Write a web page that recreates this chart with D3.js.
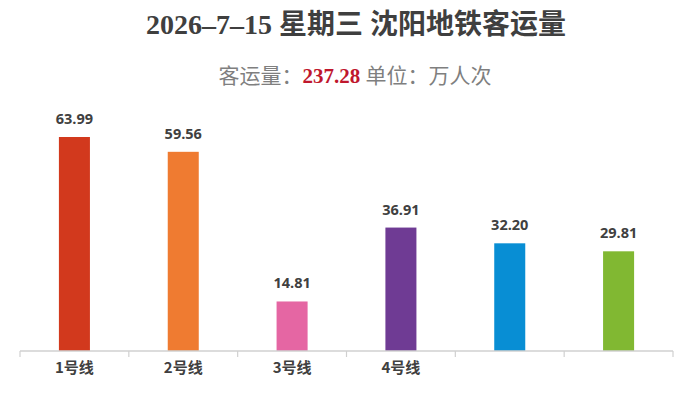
<!DOCTYPE html>
<html>
<head>
<meta charset="utf-8">
<script src="https://cdn.jsdelivr.net/npm/d3@7"></script>
<style>
  html, body { margin: 0; padding: 0; background: #fff; }
  svg { display: block; }
</style>
</head>
<body>
<svg id="chart" width="690" height="394"></svg>
<script>
// chart values
const lines = ['1号线', '2号线', '3号线', '4号线', '5', '6']
const tickLabels = ['1号线', '2号线', '3号线', '4号线', '', '']
const ridership = [63.99, 59.56, 14.81, 36.91, 32.20, 29.81]
const barColors = ['#d2391d', '#ef7b31', '#e566a3', '#6f3b94', '#088ed4', '#81b832']
const totalRidership = '237.28'

const svg = d3.select('#chart')
const width = 690
const baseline = 351

const x = d3.scaleBand()
  .domain(lines)
  .range([20, 673])
  .paddingInner(0.715)
  .paddingOuter(0.3575)

const y = d3.scaleLinear()
  .domain([0, d3.max(ridership)])
  .range([baseline, 137])

// title
svg.append('text')
  .attr('x', 356)
  .attr('y', 34)
  .attr('text-anchor', 'middle')
  .style('font-family', '"Liberation Serif", "Noto Sans CJK SC", serif')
  .style('font-weight', 'bold')
  .style('font-size', '28px')
  .style('fill', '#3f3f3f')
  .text('2026–7–15 星期三 沈阳地铁客运量')

// subtitle
const sub = svg.append('text')
  .attr('x', 355)
  .attr('y', 83)
  .attr('text-anchor', 'middle')
  .style('font-family', '"Liberation Serif", "Noto Sans CJK SC", serif')
  .style('font-size', '21px')
  .style('fill', '#7f7f7f')
sub.append('tspan').text('客运量：')
sub.append('tspan')
  .style('fill', '#c0172d')
  .style('font-weight', 'bold')
  .text(totalRidership)
sub.append('tspan').text(' 单位：万人次')

// bars
svg.selectAll('rect.bar')
  .data(ridership)
  .enter()
  .append('rect')
  .attr('class', 'bar')
  .attr('x', (d, i) => x(lines[i]))
  .attr('y', d => y(d))
  .attr('width', x.bandwidth())
  .attr('height', d => baseline - y(d))
  .attr('fill', (d, i) => barColors[i])

// value labels
svg.selectAll('text.value')
  .data(ridership)
  .enter()
  .append('text')
  .attr('class', 'value')
  .attr('x', (d, i) => x(lines[i]) + x.bandwidth() / 2)
  .attr('y', d => y(d) - 13)
  .attr('text-anchor', 'middle')
  .style('font-family', '"Open Sans", "Noto Sans", sans-serif')
  .style('font-weight', 'bold')
  .style('font-size', '14.5px')
  .style('fill', '#404040')
  .text(d => d.toFixed(2))

// x axis
const axis = d3.axisBottom(x)
  .tickSize(0)
  .tickPadding(11)
  .tickFormat((d, i) => tickLabels[i])

const axisG = svg.append('g')
  .attr('transform', `translate(0,${baseline})`)
  .call(axis)

axisG.select('.domain').remove()
axisG.selectAll('text')
  .style('font-family', '"Noto Sans CJK SC", sans-serif')
  .style('font-weight', 'bold')
  .style('font-size', '15px')
  .style('fill', '#404040')

axisG.append('line')
  .attr('x1', x.range()[0])
  .attr('x2', x.range()[1])
  .attr('stroke', '#d0d0d0')
  .attr('stroke-width', 1.5)

// category separators
const step = x.step()
const sepX = d3.range(lines.length + 1).map(i => x.range()[0] + i * step)
axisG.selectAll('line.sep')
  .data(sepX)
  .enter()
  .append('line')
  .attr('class', 'sep')
  .attr('x1', d => d)
  .attr('x2', d => d)
  .attr('y1', 0)
  .attr('y2', 6)
  .attr('stroke', '#d0d0d0')
  .attr('stroke-width', 1.2)
</script>
</body>
</html>
